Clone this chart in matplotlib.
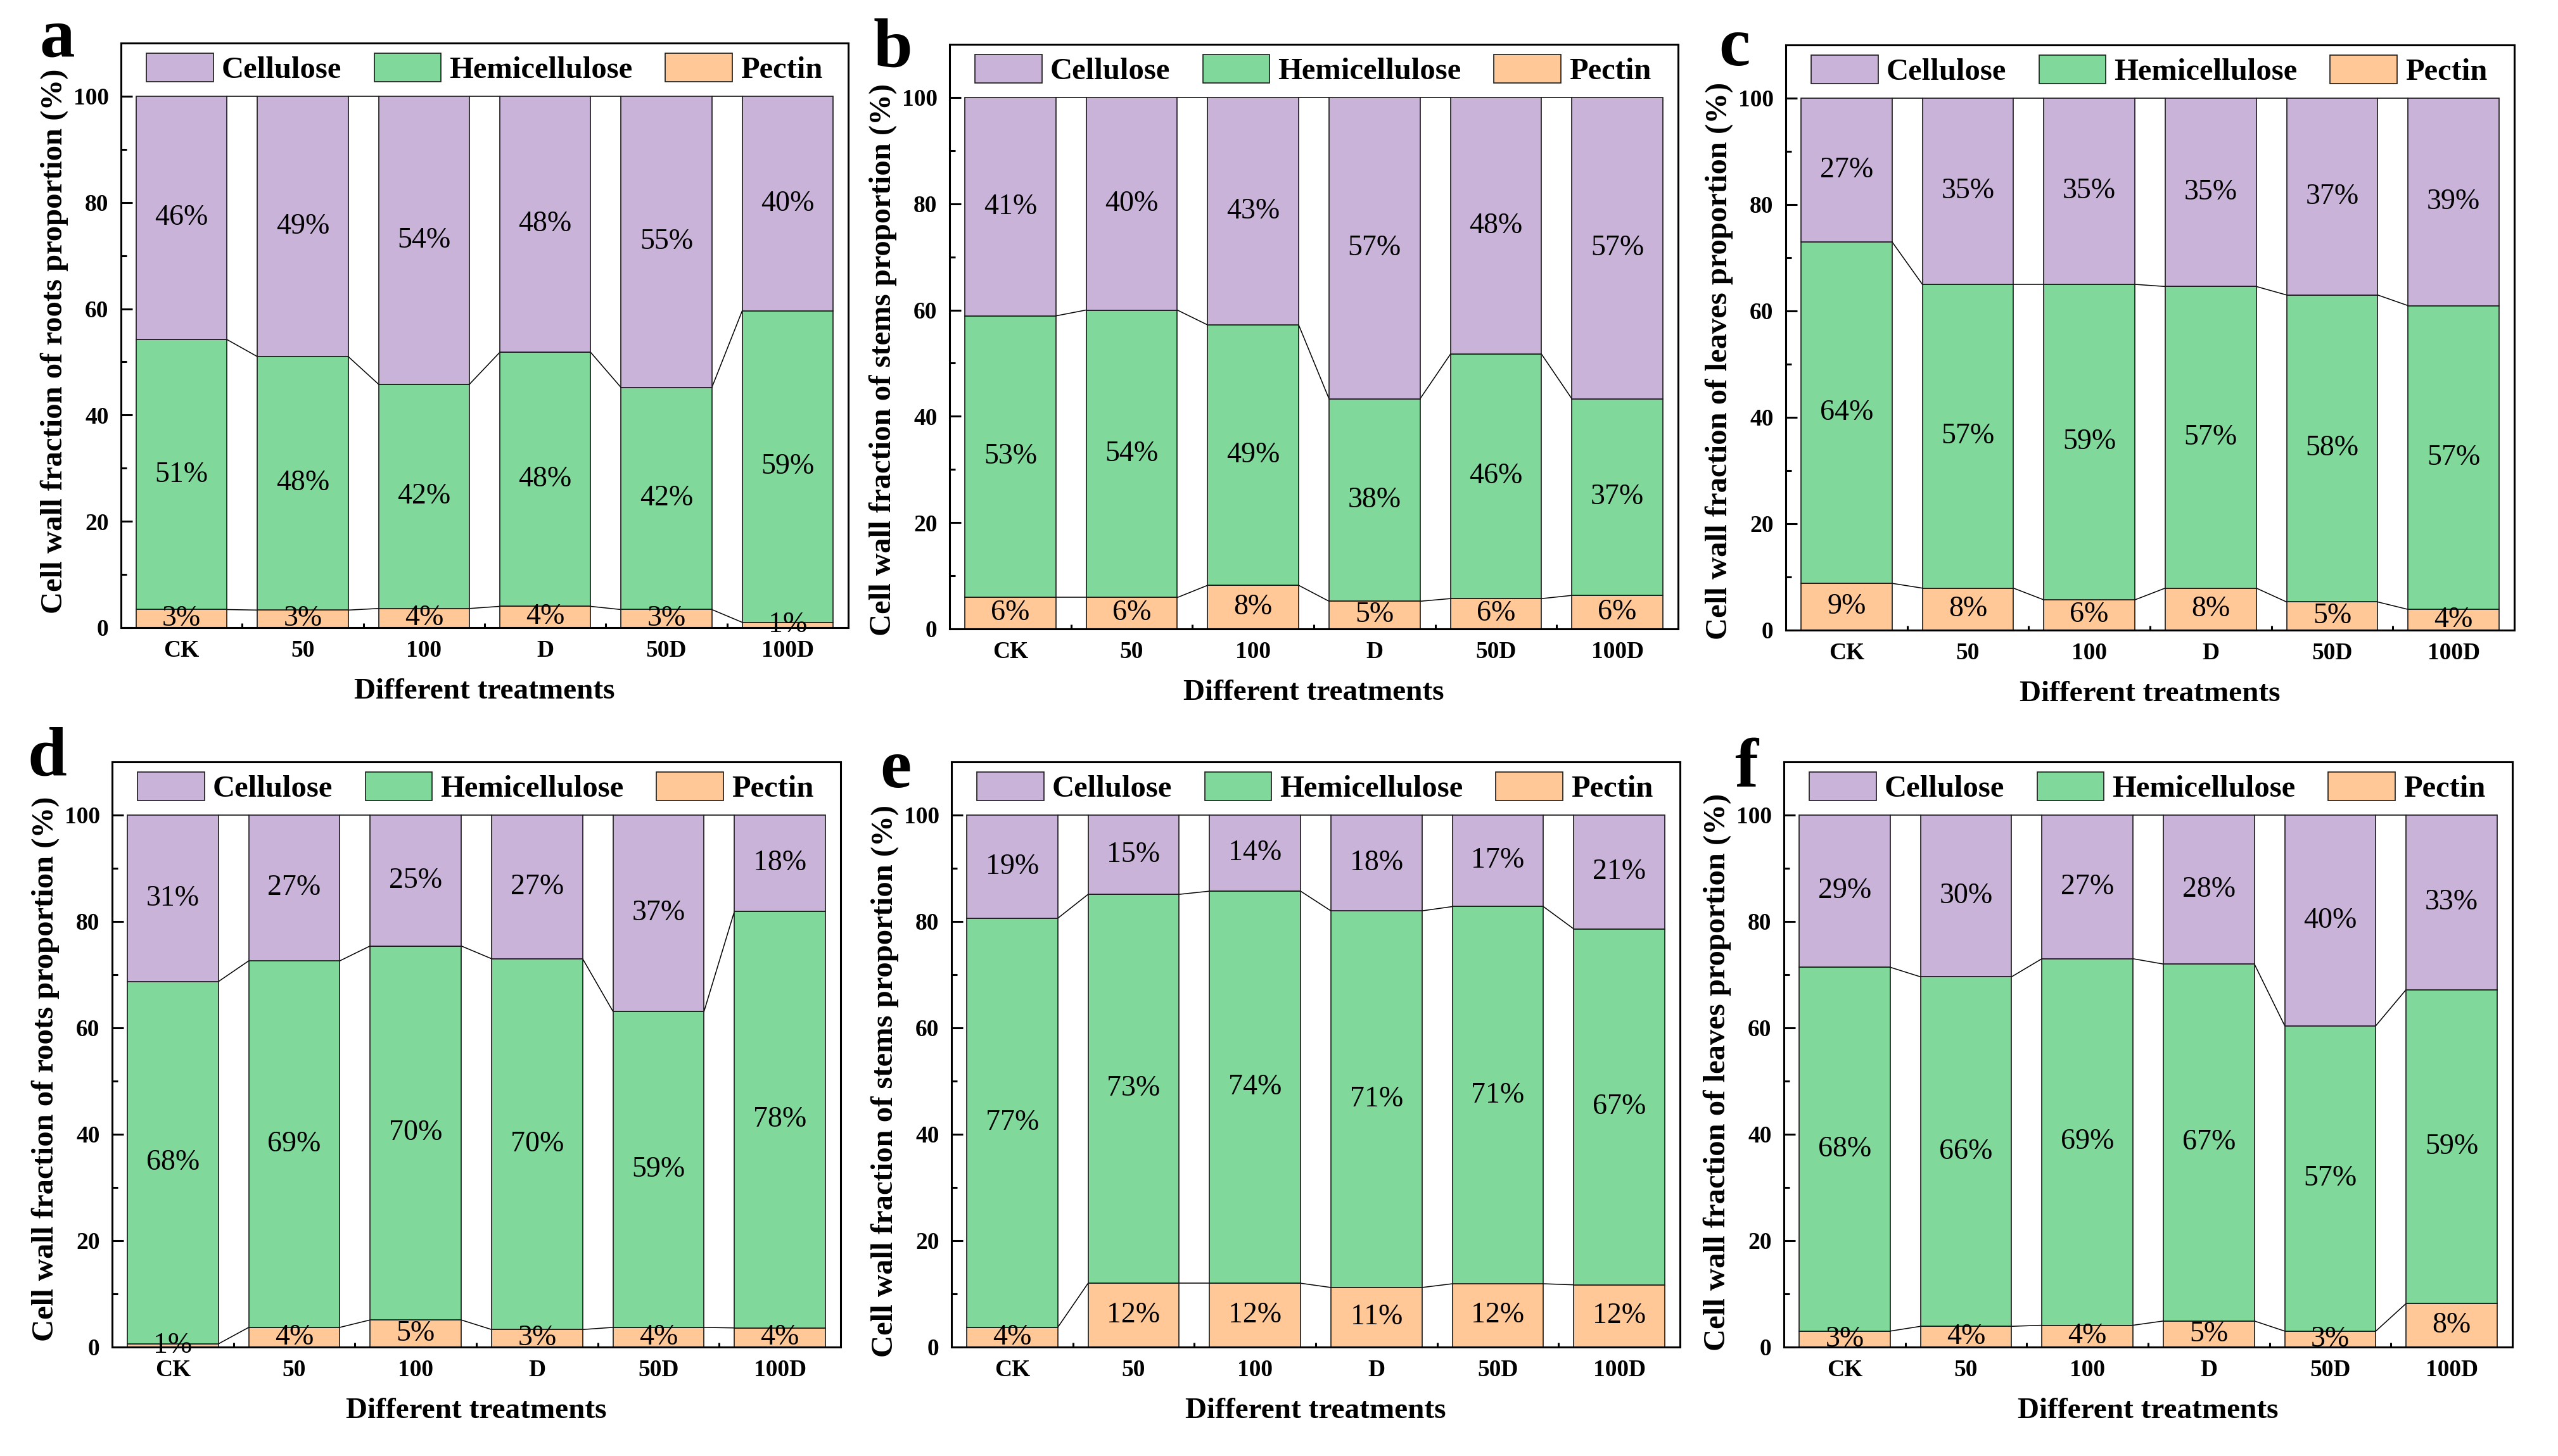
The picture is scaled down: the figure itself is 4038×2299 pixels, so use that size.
import matplotlib
matplotlib.use('Agg')
import matplotlib.pyplot as plt
from matplotlib.patches import Patch
import numpy as np

plt.rcParams['font.family'] = ['Liberation Serif', 'DejaVu Serif']

# ---------------- data ----------------
treatments = ['CK', '50', '100', 'D', '50D', '100D']
components = ['Cellulose', 'Hemicellulose', 'Pectin']

# panel a - roots
a_pectin = [3.4, 3.3, 3.6, 4.0, 3.4, 1.0]
a_hemi = [50.8, 47.7, 42.2, 47.8, 41.8, 58.6]
a_cell = [45.8, 49.0, 54.2, 48.2, 54.8, 40.4]
# panel b - stems
b_pectin = [5.9, 5.9, 8.2, 5.2, 5.7, 6.3]
b_hemi = [53.0, 54.1, 49.0, 38.1, 46.0, 37.0]
b_cell = [41.1, 40.0, 42.8, 56.7, 48.3, 56.7]
# panel c - leaves
c_pectin = [8.8, 7.9, 5.7, 7.9, 5.3, 3.9]
c_hemi = [64.2, 57.1, 59.3, 56.7, 57.7, 57.1]
c_cell = [27.0, 35.0, 35.0, 35.4, 37.0, 39.0]
# panel d - roots
d_pectin = [0.6, 3.7, 5.1, 3.3, 3.7, 3.6]
d_hemi = [68.1, 68.9, 70.3, 69.7, 59.4, 78.3]
d_cell = [31.3, 27.4, 24.6, 27.0, 36.9, 18.1]
# panel e - stems
e_pectin = [3.7, 12.0, 12.0, 11.2, 11.9, 11.7]
e_hemi = [76.9, 73.1, 73.7, 70.8, 70.9, 66.9]
e_cell = [19.4, 14.9, 14.3, 18.0, 17.2, 21.4]
# panel f - leaves
f_pectin = [3.0, 3.9, 4.1, 4.9, 3.0, 8.2]
f_hemi = [68.4, 65.7, 68.9, 67.1, 57.4, 59.0]
f_cell = [28.6, 30.4, 27.0, 28.0, 39.6, 32.8]

ylabels = {
    'roots': 'Cell wall fraction of roots proportion (%)',
    'stems': 'Cell wall fraction of stems proportion (%)',
    'leaves': 'Cell wall fraction of leaves proportion (%)',
}
xlabel_text = 'Different treatments'

# ---------------- style ----------------
C_CELL = '#C9B3D8'
C_HEMI = '#80D89B'
C_PECT = '#FFC896'
EDGE = '#1a1a1a'

W, H = 4038, 2299
fig = plt.figure(figsize=(W / 100, H / 100), dpi=100)

# layout (pixels): left, right, top, bottom of axes frame; letter pos; ylabel y frac
layout = [
    dict(letter='a', organ='roots', data=(a_pectin, a_hemi, a_cell), box=(191, 1339, 68, 991), lxy=(62, 88), ly=0.49),
    dict(letter='b', organ='stems', data=(b_pectin, b_hemi, b_cell), box=(1499, 2649, 70, 993), lxy=(1379, 106), ly=0.46),
    dict(letter='c', organ='leaves', data=(c_pectin, c_hemi, c_cell), box=(2819, 3969, 71, 995), lxy=(2713, 103), ly=0.46),
    dict(letter='d', organ='roots', data=(d_pectin, d_hemi, d_cell), box=(177, 1327, 1203, 2127), lxy=(43, 1225), ly=0.475),
    dict(letter='e', organ='stems', data=(e_pectin, e_hemi, e_cell), box=(1502, 2652, 1203, 2127), lxy=(1389, 1243), ly=0.455),
    dict(letter='f', organ='leaves', data=(f_pectin, f_hemi, f_cell), box=(2816, 3966, 1203, 2127), lxy=(2738, 1242), ly=0.47),
]

BW = 0.75
x = np.arange(len(treatments))

for p in layout:
    L, R, T, B = p['box']
    wpx, hpx = R - L, B - T
    ax = fig.add_axes([L / W, 1 - B / H, wpx / W, hpx / H])
    pect, hemi, cell = [np.array(v) for v in p['data']]

    ax.bar(x, pect, width=BW, color=C_PECT, edgecolor=EDGE, linewidth=1.2, zorder=2)
    ax.bar(x, hemi, bottom=pect, width=BW, color=C_HEMI, edgecolor=EDGE, linewidth=1.2, zorder=2)
    ax.bar(x, cell, bottom=pect + hemi, width=BW, color=C_CELL, edgecolor=EDGE, linewidth=1.2, zorder=2)

    # connecting lines between stacks
    for bnd in (pect, pect + hemi, pect + hemi + cell):
        for i in range(len(x) - 1):
            ax.plot([x[i] + BW / 2, x[i + 1] - BW / 2], [bnd[i], bnd[i + 1]],
                    color='black', linewidth=1.1, zorder=1.5)

    # value labels
    for vals, bottoms in ((pect, np.zeros(len(x))), (hemi, pect), (cell, pect + hemi)):
        for i in range(len(x)):
            ax.text(x[i], bottoms[i] + vals[i] / 2, f"{vals[i]:.0f}%",
                    ha='center', va='center', fontsize=33, zorder=3)

    ax.set_xlim(-0.5, 5.5)
    ax.set_ylim(0, 110)
    ax.set_xticks(x)
    ax.set_xticklabels(treatments, fontsize=27, fontweight='bold')
    ax.set_xticks(x[:-1] + 0.5, minor=True)
    ax.set_yticks([0, 20, 40, 60, 80, 100])
    ax.set_yticklabels(['0', '20', '40', '60', '80', '100'], fontsize=27, fontweight='bold')
    ax.set_yticks([10, 30, 50, 70, 90], minor=True)
    ax.tick_params(axis='y', which='major', direction='in', length=13, width=2.2, pad=14)
    ax.tick_params(axis='y', which='minor', direction='in', length=6.5, width=2.2)
    ax.tick_params(axis='x', which='major', direction='in', length=10, width=2.2, pad=14)
    ax.tick_params(axis='x', which='minor', direction='in', length=5, width=2.2)
    for s in ax.spines.values():
        s.set_linewidth(2.2)

    # axis titles
    ax.text(0.5, -101 / hpx, xlabel_text, transform=ax.transAxes, ha='center', va='center',
            fontsize=34, fontweight='bold')
    ax.text(-105 / wpx, p['ly'], ylabels[p['organ']], transform=ax.transAxes, rotation=90,
            ha='center', va='center', fontsize=35, fontweight='bold')

    # legend
    handles = [Patch(facecolor=C_CELL, edgecolor=EDGE, linewidth=1.2),
               Patch(facecolor=C_HEMI, edgecolor=EDGE, linewidth=1.2),
               Patch(facecolor=C_PECT, edgecolor=EDGE, linewidth=1.2)]
    ax.legend(handles, components, ncol=3, loc='center left',
              bbox_to_anchor=(40 / wpx, 105.2 / 110), frameon=False,
              prop={'size': 35, 'weight': 'bold'}, handlelength=2.18, handleheight=1.07,
              handletextpad=0.27, columnspacing=1.05, borderpad=0, borderaxespad=0)

    fig.text(p['lxy'][0] / W, 1 - p['lxy'][1] / H, p['letter'], fontsize=80,
             fontweight='bold', ha='left', va='baseline')

fig.savefig('out.png', dpi=100)
